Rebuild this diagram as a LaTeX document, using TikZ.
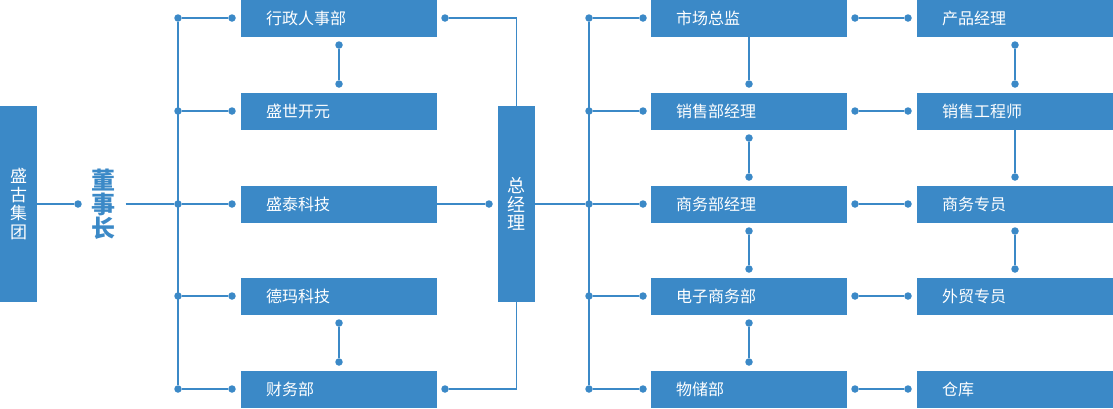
\documentclass[tikz,border=0pt]{standalone}
\usepackage{fontspec}
\setmainfont{Noto Sans CJK SC}
\usepackage{tikz}
\usetikzlibrary{positioning,calc}
\definecolor{myblue}{RGB}{59,137,199}

\begin{document}
\begin{tikzpicture}[x=1bp,y=-1bp,
  box/.style={fill=myblue, text=white, minimum height=37bp, inner ysep=0pt,
              inner xsep=25bp, text width=146bp, align=left,
              font=\fontsize{16bp}{18bp}\selectfont},
  tallbox/.style={fill=myblue, text=white, minimum width=37bp, inner sep=0pt,
                  align=center},
  dot/.style={circle, fill=myblue, inner sep=0pt, minimum size=7.5bp},
  link/.style={myblue, line width=1.3bp}]
  \useasboundingbox (0,0) rectangle (1113,408);
  % group and chairman
  \node[tallbox, minimum height=196bp,
        font=\fontsize{17bp}{18.5bp}\selectfont] (group) at (18.5,204) {盛\\古\\集\\团};
  \node[dot] (gdot) at (78,204) {};
  \draw[link] (group.east) -- (gdot);
  \node[text=myblue, align=center, inner xsep=10bp,
        font=\fontsize{24bp}{24bp}\selectfont\bfseries] (chair) at (103.5,204) {董\\事\\长};
  % left bus
  \foreach \y/\n in {18/1,111/2,204/3,296/4,389/5}{
    \node[dot] (lb\n) at (178,\y) {};
    \node[dot] (la\n) at (232,\y) {};
    \draw[link] (lb\n) -- (la\n);
  }
  \draw[link] (lb1) -- (lb5);
  \draw[link] (chair.east) -- (lb3);
  % left column
  \node[box, anchor=west] (admin)    at (241,18)  {行政人事部};
  \node[box, anchor=west] (shengshi) at (241,111) {盛世开元};
  \node[box, anchor=west] (shengtai) at (241,204) {盛泰科技};
  \node[box, anchor=west] (dema)     at (241,296) {德玛科技};
  \node[box, anchor=west] (finance)  at (241,389) {财务部};
  \node[dot] (lv1) at (339,45) {};
  \node[dot] (lv2) at (339,84) {};
  \draw[link] (lv1) -- (lv2);
  \node[dot] (lv3) at (339,323) {};
  \node[dot] (lv4) at (339,362) {};
  \draw[link] (lv3) -- (lv4);
  % general manager
  \node[tallbox, minimum height=196bp,
        font=\fontsize{18bp}{18.5bp}\selectfont] (gm) at (516.5,204) {总\\经\\理};
  \node[dot] (adot) at (445,18) {};
  \node[dot] (fdot) at (445,389) {};
  \node[dot] (tdot) at (489,204) {};
  \draw[link] (adot) -| (gm.north);
  \draw[link] (fdot) -| (gm.south);
  \draw[link] (shengtai.east) -- (tdot);
  % right bus
  \foreach \y/\n in {18/1,111/2,204/3,296/4,389/5}{
    \node[dot] (rb\n) at (589,\y) {};
    \node[dot] (ra\n) at (643,\y) {};
    \draw[link] (rb\n) -- (ra\n);
    \node[dot] (hx\n) at (855,\y) {};
    \node[dot] (hy\n) at (908,\y) {};
    \draw[link] (hx\n) -- (hy\n);
  }
  \draw[link] (rb1) -- (rb5);
  \draw[link] (gm.east) -- (rb3);
  % right column
  \node[box, anchor=west] (market) at (651,18)  {市场总监};
  \node[box, anchor=west] (sales)  at (651,111) {销售部经理};
  \node[box, anchor=west] (biz)    at (651,204) {商务部经理};
  \node[box, anchor=west] (ecom)   at (651,296) {电子商务部};
  \node[box, anchor=west] (store)  at (651,389) {物储部};
  \node[dot] (mv1) at (749,84) {};
  \draw[link] (mv1 |- market.south) -- (mv1);
  \node[dot] (mv2) at (749,138) {};
  \node[dot] (mv3) at (749,177) {};
  \draw[link] (mv2) -- (mv3);
  \node[dot] (mv4) at (749,231) {};
  \node[dot] (mv5) at (749,269) {};
  \draw[link] (mv4) -- (mv5);
  \node[dot] (mv6) at (749,323) {};
  \node[dot] (mv7) at (749,362) {};
  \draw[link] (mv6) -- (mv7);
  % far right column
  \node[box, anchor=west] (product)  at (917,18)  {产品经理};
  \node[box, anchor=west] (saleseng) at (917,111) {销售工程师};
  \node[box, anchor=west] (bizstaff) at (917,204) {商务专员};
  \node[box, anchor=west] (trade)    at (917,296) {外贸专员};
  \node[box, anchor=west] (depot)    at (917,389) {仓库};
  \node[dot] (pv1) at (1015,45) {};
  \node[dot] (pv2) at (1015,84) {};
  \draw[link] (pv1) -- (pv2);
  \node[dot] (pv3) at (1015,177) {};
  \draw[link] (pv3 |- saleseng.south) -- (pv3);
  \node[dot] (pv4) at (1015,231) {};
  \node[dot] (pv5) at (1015,269) {};
  \draw[link] (pv4) -- (pv5);
\end{tikzpicture}
\end{document}
